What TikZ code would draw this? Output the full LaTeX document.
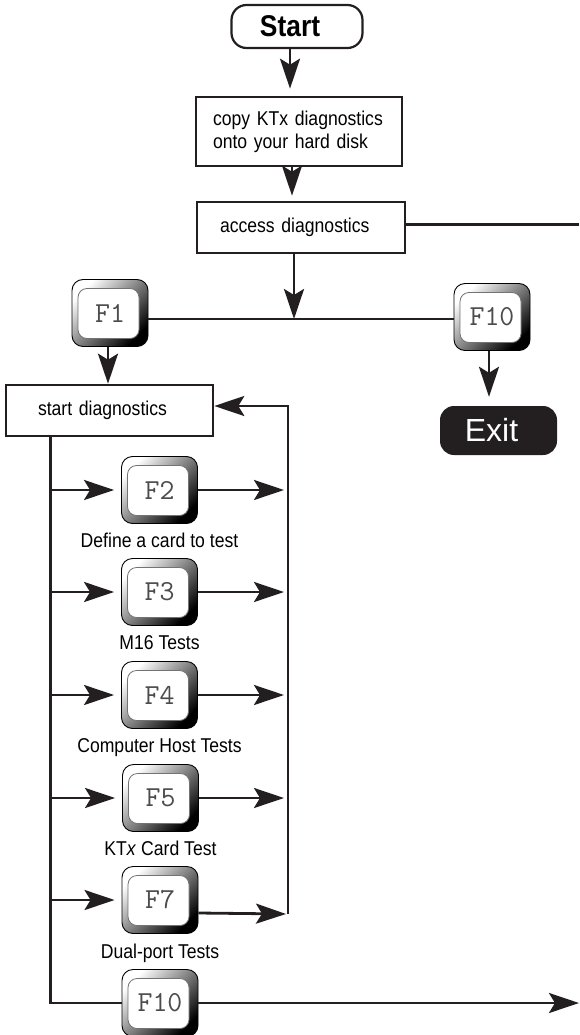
\documentclass[tikz,border=0pt]{standalone}
\usepackage{fontspec}
\setmainfont{Liberation Sans}
\newfontfamily\condfont{Liberation Sans}[FakeStretch=0.88]
\usetikzlibrary{arrows.meta,positioning}
\definecolor{ink}{HTML}{231F20}

\begin{document}
\begin{tikzpicture}[
  x={(1pt,0pt)}, y={(0pt,-1pt)},
  box/.style={
    draw=ink, line width=2.6pt, fill=white, inner ysep=0pt,
    font=\condfont\fontsize{20}{23}\selectfont, align=left,
  },
  startbox/.style={
    draw=ink, line width=2.2pt, rounded corners=15pt, inner sep=0pt,
    minimum width=131pt, minimum height=43pt,
    font=\condfont\bfseries\fontsize{30}{30}\selectfont,
  },
  exitbox/.style={
    fill=ink, rounded corners=14pt, inner sep=0pt,
    minimum width=117pt, minimum height=49pt,
    text=white, font=\fontsize{32}{32}\selectfont,
  },
  fkey/.style={
    minimum width=76pt, minimum height=67pt, inner sep=0pt,
    rounded corners=11pt, draw=black, line width=0.9pt,
    top color=white, middle color=white, bottom color=black,
    shading angle=45,
    path picture={
      \draw[black!55, line width=0.8pt, fill=white, rounded corners=9pt]
        ([shift={(6pt,-9pt)}]path picture bounding box.north west)
        rectangle
        ([shift={(-9pt,8pt)}]path picture bounding box.south east);
    },
    font=\ttfamily\fontsize{29}{29}\selectfont, text=black!70,
  },
  lab/.style={font=\condfont\fontsize{20}{23}\selectfont, inner sep=0pt, anchor=base},
  arr/.style={-{Stealth[length=30pt,width=20pt,inset=6pt]}, line width=2.8pt, ink},
  wire/.style={line width=2.8pt, ink},
]

\useasboundingbox (0,0) rectangle (579,1035);
\clip (0,0) rectangle (579,1035);
\coordinate (rim) at (579,0);

% -- top of the chart ---------------------------------------
\node[startbox] (start) at (297,26.5) {\hspace*{-14pt}Start};
\node[box, text width=172pt, inner xsep=17pt, minimum height=69pt]
  (copy) at (299,131.5) {copy KTx diagnostics\\onto your hard disk};
\node[box, text width=162pt, inner xsep=23pt, minimum height=51pt]
  (access) at (301,227.5) {access diagnostics};

\draw[arr, shorten >=7pt] (start.south -| 290,0) -- (copy.north -| 290,0);
\draw[arr, shorten >=5pt] (copy.south -| 292,0) -- (access.north -| 292,0);
\draw[wire] ([yshift=3pt]access.east) -- ([yshift=3pt]access.east -| rim);

% -- F1 / F10 choice ----------------------------------------
\node[fkey] (F1)  at (110,313) {F1};
\node[fkey] (F10) at (492,317) {F10};
\node[exitbox] (exit) at (498.5,430.5) {\hspace*{-14pt}Exit};
\coordinate (jn) at (294,319);

\draw[arr] (access.south -| jn) -- (jn);
\draw[wire] (F1.east |- jn) -- (F10.west |- jn);
\draw[arr, shorten >=9pt] (F10.south -| 489,0) -- (exit.north -| 489,0);

% -- diagnostics loop ---------------------------------------
\node[box, text width=143pt, inner xsep=32pt, minimum height=51pt]
  (sdiag) at (109.5,410.5) {start diagnostics};
\draw[arr] (F1.south -| 108,0) -- (sdiag.north -| 108,0);

\node[fkey] (F2) at (159.5,490) {F2};
\node[fkey] (F3) at (159.5,592) {F3};
\node[fkey] (F4) at (159.5,695) {F4};
\node[fkey] (F5) at (160.5,798) {F5};
\node[fkey] (F7) at (160,900)   {F7};
\node[fkey] (Fx) at (160,1003)  {F10};

\node[lab] (lF2) at ([yshift=-57pt]F2.center) {Define a card to test};
\node[lab] (lF3) at ([yshift=-57pt]F3.center) {M16 Tests};
\node[lab] (lF4) at ([yshift=-57pt]F4.center) {Computer Host Tests};
\node[lab] (lF5) at ([yshift=-57pt]F5.center) {KT\textit{x} Card Test};
\node[lab] (lF7) at ([yshift=-58pt]F7.center) {Dual-port Tests};

\coordinate (spine) at ([xshift=46pt]sdiag.south west);
\coordinate (ltop) at (288,406);
\coordinate (lbot) at (288,914);

\draw[wire] (spine) |- (Fx.west);
\draw[arr] (lbot) -- (ltop) -- (ltop -| sdiag.east);

\foreach \k in {F2,F3,F4,F5,F7}
  \draw[arr, shorten >=7pt] (spine |- \k.west) -- (\k.west);
\foreach \k in {F2,F3,F4,F5}
  \draw[arr, shorten >=4pt] (\k.east) -- (ltop |- \k.east);
\draw[arr, shorten >=2pt] ([yshift=-13pt]F7.east) -- (lbot);

\draw[arr] (Fx.east) -- (Fx.east -| rim);

\end{tikzpicture}
\end{document}
